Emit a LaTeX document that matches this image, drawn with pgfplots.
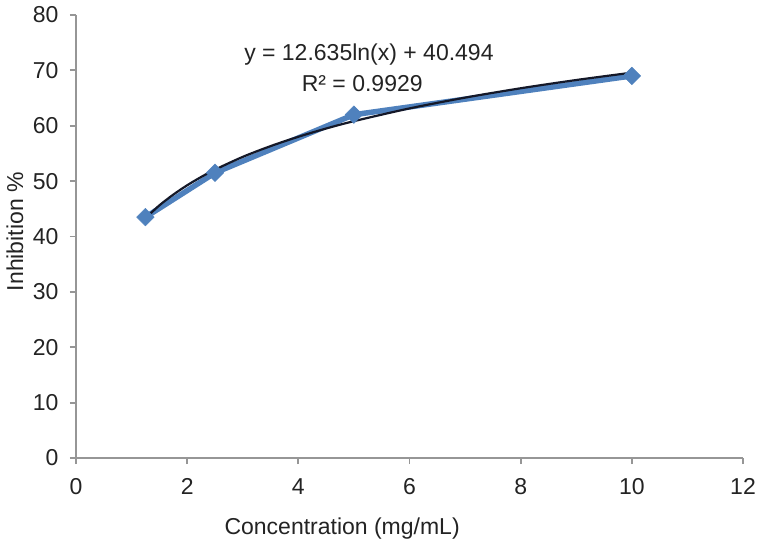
\documentclass[border=0pt]{standalone}
\usepackage{fontspec}
\setmainfont{Liberation Sans}
\usepackage{pgfplots}
\pgfplotsset{compat=1.18}
\definecolor{serblue}{RGB}{79,129,189}
\definecolor{axgray}{RGB}{150,150,150}
\definecolor{txt}{RGB}{35,35,35}
\definecolor{trend}{RGB}{20,24,40}
\newcommand{\cf}{\fontsize{23}{27}\selectfont}
\begin{document}
\begin{tikzpicture}
\begin{axis}[
  at={(0,0)}, anchor=south west,
  scale only axis, width=667pt, height=443pt,
  xmin=0, xmax=12, ymin=0, ymax=80,
  xtick={0,2,...,12}, ytick={0,10,...,80},
  axis lines=left, axis line style={axgray, line width=1.8pt, -},
  tick align=outside, major tick length=6pt,
  tick style={axgray, line width=1.8pt},
  every tick label/.append style={txt, font=\cf},
  /pgf/number format/assume math mode=true,
  xticklabel style={yshift=-11pt},
  yticklabel style={xshift=-8pt},
  xlabel={Concentration (mg/mL)},
  ylabel={Inhibition \%},
  xlabel style={at={(axis description cs:0.399,-0.160)}, anchor=center, txt, font=\cf},
  ylabel style={at={(axis description cs:-0.0915,0.511)}, anchor=center, rotate=0, txt, font=\cf},
  clip=false,
]
\addplot[serblue, line width=5.5pt, mark=square*, mark size=6.2pt,
  mark options={rotate=45, fill=serblue, draw=serblue, line width=0.5pt}]
  coordinates {(1.25,43.5) (2.5,51.5) (5,62.0) (10,69.0)};
\addplot[trend, line width=2.2pt, smooth, no marks]
  coordinates {(1.25,43.31) (1.5,45.62) (1.75,47.56) (2,49.25) (2.25,50.74)
  (2.5,52.07) (3,54.38) (3.5,56.32) (4,58.01) (4.5,59.50) (5,60.83)
  (6,63.13) (7,65.08) (8,66.77) (9,68.26) (10,69.59)};
\node[txt, font=\cf, anchor=base] at (axis cs:5.27,71.8) {y = 12.635ln(x) + 40.494};
\node[txt, font=\cf, anchor=base] at (axis cs:5.15,66.1) {R² = 0.9929};
\end{axis}
\pgfresetboundingbox
\path (-76pt,-86pt) rectangle (686pt,458pt);
\end{tikzpicture}
\end{document}
